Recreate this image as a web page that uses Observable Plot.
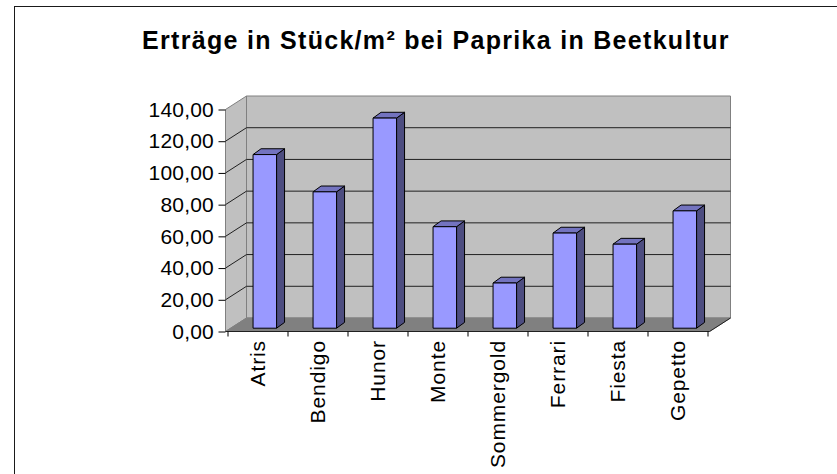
<!DOCTYPE html>
<html><head><meta charset="utf-8">
<script src="https://cdn.jsdelivr.net/npm/d3@7"></script>
<script src="https://cdn.jsdelivr.net/npm/@observablehq/plot@0.6"></script>
<style>
body{margin:0;background:#fff;}
#wrap{position:relative;width:837px;height:474px;overflow:hidden;}
#wrap svg{position:absolute;left:0;top:0;}
#border{position:absolute;left:14px;top:6px;width:900px;height:600px;border-top:1.5px solid #1a1a1a;border-left:1.5px solid #1a1a1a;}
</style></head><body><div id="wrap"><div id="border"></div></div>
<script>
const title = "Erträge in Stück/m² bei Paprika in Beetkultur";
const sorten = ["Atris","Bendigo","Hunor","Monte","Sommergold","Ferrari","Fiesta","Gepetto"];
const ertrag = [109.5, 86, 132.5, 64, 28.5, 60, 53, 74];
const yTicks = [0, 20, 40, 60, 80, 100, 120, 140];
const data = sorten.map((s, i) => ({sorte: s, wert: ertrag[i]}));

// 3D styling (pixel offsets)
const WALL = [21, -13.5];
const SHIFT = [6.8, -3.3];
const DEPTH = [8, -5.8];
const BAR_W = 23.5;

function scene(index, scales, values, dims) {
  const {x, y} = scales;
  const g = d3.create("svg:g");
  const x0 = dims.marginLeft, x1 = dims.width - dims.marginRight;
  const [wx, wy] = WALL;
  const yb = y(0), yt = y(140);
  const pts = p => p.map(q => q.join(",")).join(" ");
  const poly = (p, fill, stroke) => g.append("polygon").attr("points", pts(p))
    .attr("fill", fill).attr("stroke", stroke).attr("stroke-width", 1).attr("stroke-linejoin", "round");
  const line = (p, stroke) => g.append("polyline").attr("points", pts(p))
    .attr("fill", "none").attr("stroke", stroke).attr("stroke-width", 1);
  // back wall
  poly([[x0 + wx, yt + wy], [x1 + wx, yt + wy], [x1 + wx, yb + wy], [x0 + wx, yb + wy]], "#C0C0C0", "#808080");
  // left wall
  poly([[x0, yt], [x0 + wx, yt + wy], [x0 + wx, yb + wy], [x0, yb]], "#C0C0C0", "#808080");
  // floor
  poly([[x0, yb], [x0 + wx, yb + wy], [x1 + wx, yb + wy], [x1, yb]], "#808080", "#808080");
  // gridlines
  for (const t of yTicks) {
    if (t > 0 && t < 140) line([[x0, y(t)], [x0 + wx, y(t) + wy], [x1 + wx, y(t) + wy]], "#202020");
  }
  // floor edges
  line([[x0, yb], [x1, yb], [x1 + wx, yb + wy]], "#202020");
  // bars
  const bw = x.bandwidth();
  const [dx, dy] = DEPTH;
  for (const d of data) {
    const xl = x(d.sorte) + (bw - BAR_W) / 2 + SHIFT[0];
    const xr = xl + BAR_W;
    const ybb = y(0) + SHIFT[1];
    const ytt = y(d.wert) + SHIFT[1];
    poly([[xr, ytt], [xr + dx, ytt + dy], [xr + dx, ybb + dy], [xr, ybb]], "#4D4D80", "#000");
    poly([[xl, ytt], [xl + dx, ytt + dy], [xr + dx, ytt + dy], [xr, ytt]], "#7373BF", "#000");
    poly([[xl, ytt], [xr, ytt], [xr, ybb], [xl, ybb]], "#9999FF", "#000");
  }
  // x ticks at band boundaries
  const bounds = sorten.map(s => x(s)).concat([x(sorten[sorten.length - 1]) + bw]);
  for (const b of bounds) line([[b, yb], [b, yb + 5]], "#000");
  return g.node();
}

const chart = Plot.plot({
  width: 837,
  height: 474,
  marginLeft: 225.5,
  marginRight: 127.5,
  marginTop: 109.5,
  marginBottom: 142.5,
  style: {fontFamily: "'Liberation Sans', Arial, sans-serif", fontSize: "21px", color: "#000", background: "transparent"},
  x: {type: "band", domain: sorten, padding: 0, axis: null},
  y: {domain: [0, 140], axis: null},
  marks: [
    scene,
    Plot.axisY({ticks: yTicks, tickFormat: d => d.toFixed(2).replace(".", ","), tickSize: 7, tickPadding: 5, fontSize: 21, label: null, stroke: "#000"}),
    Plot.axisX({tickSize: 0, tickRotate: -90, tickPadding: 8, fontSize: 21, label: null}),
    Plot.text([title], {text: d => d, frameAnchor: "top", dx: -32, dy: -61, lineAnchor: "bottom", fontSize: 25, fontWeight: "bold", fill: "#000"})
  ]
});
d3.select(chart).selectAll("text").each(function () {
  const t = this.textContent;
  if (t === title) this.style.letterSpacing = "1.3px";
  else if (sorten.includes(t)) this.style.letterSpacing = "0.9px";
  else this.style.letterSpacing = "0.2px";
});
document.getElementById("wrap").appendChild(chart);
</script>
</body></html>
